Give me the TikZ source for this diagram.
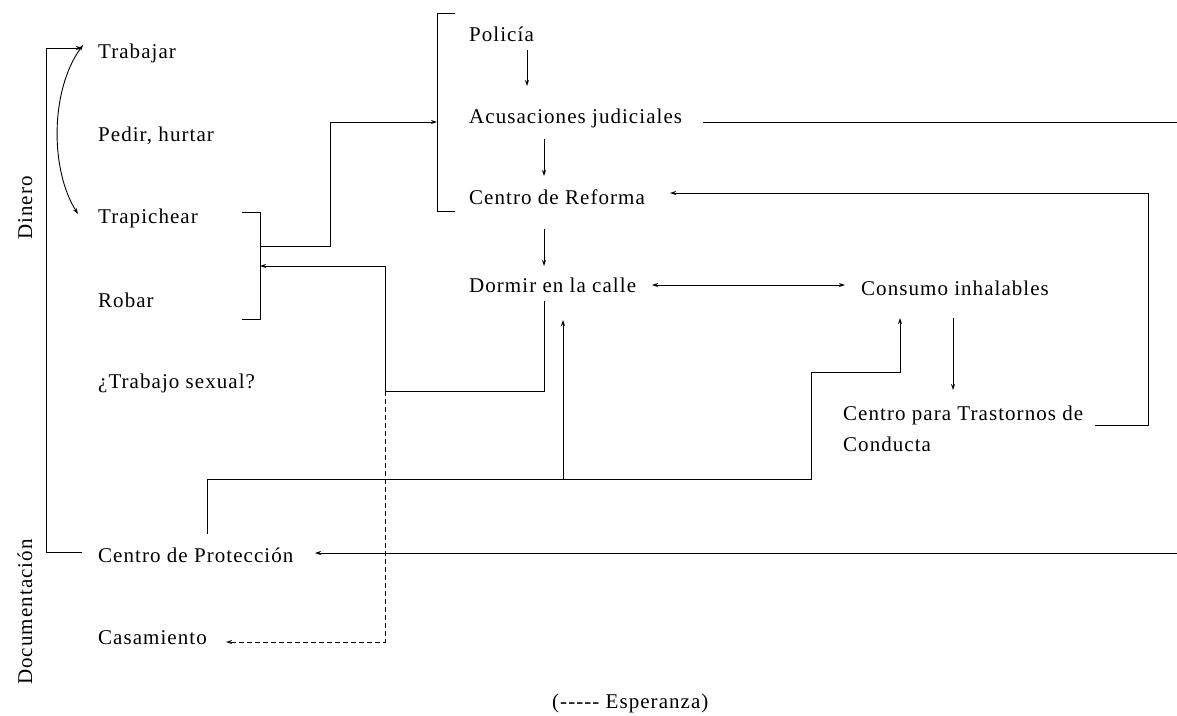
\documentclass[tikz,border=0pt]{standalone}
\usepackage{fontspec}
\setmainfont[LetterSpace=5]{Liberation Serif}
\usetikzlibrary{arrows.meta}
\begin{document}
\begin{tikzpicture}[x=1pt,y=-1pt,
 lbl/.style={anchor=base west,inner sep=0pt,font=\fontsize{21}{31}\selectfont},
 ln/.style={line width=0.9pt},
 arr/.style={ln,-{Stealth[length=6pt,width=4pt]}},
 darr/.style={ln,{Stealth[length=6pt,width=4pt]}-{Stealth[length=6pt,width=4pt]}},
 dash arr/.style={arr,dash pattern=on 5pt off 3pt}]
\useasboundingbox (0,0) rectangle (1177,715);
% left column
\node[lbl] (trab) at (98,58) {Trabajar};
\node[lbl] (pedir) at (98,141) {Pedir, hurtar};
\node[lbl] (trap) at (98,223) {Trapichear};
\node[lbl] (robar) at (98,307) {Robar};
\node[lbl] (sexual) at (98,388) {¿Trabajo sexual?};
\node[lbl] (prot) at (98,562) {Centro de Protección};
\node[lbl] (casa) at (98,644) {Casamiento};
\node[lbl,anchor=base,rotate=90] (dinero) at (32,208) {Dinero};
\node[lbl,anchor=base,rotate=90] (docu) at (32,612) {Documentación};
% middle column
\node[lbl] (poli) at (469,41) {Policía};
\node[lbl] (acus) at (469,123) {Acusaciones judiciales};
\node[lbl] (refo) at (469,204) {Centro de Reforma};
\node[lbl] (dorm) at (469,292) {Dormir en la calle};
% right
\node[lbl] (cons) at (861,295) {Consumo inhalables};
\node[lbl,align=left] (tras) at (843,451) {Centro para Trastornos de\\Conducta};
\node[lbl] (esp) at (552,708) {(-{}-{}-{}-{}- Esperanza)};
% coordinates
\coordinate (lbT) at (46,48);
\coordinate (lbB) at (46,552);
\coordinate (bT) at (242,212);
\coordinate (bB) at (242,319);
\coordinate (bM) at (260,246);
\coordinate (bIn) at (260,266);
\coordinate (pT) at (455,13);
\coordinate (pB) at (455,211);
\coordinate (pIn) at (437,122);
\coordinate (eR1) at (1177,122);
\coordinate (eR2) at (1177,553);
\coordinate (j1) at (385,391);
\coordinate (j2) at (563,479);
% left bracket Dinero / Documentación
\draw[arr] (82,552) -- (lbB) -- (lbT) -- (82,48);
\draw[darr] (83,45) .. controls (50,90) and (50,170) .. (78,214);
% bracket Trapichear / Robar
\draw[ln] (bT) -- (260,212) -- (260,319) -- (bB);
\draw[arr] (bM) -- (330,246) -- (330,122) -- (pIn);
% bracket Policia ... Centro de Reforma
\draw[ln] (pT) -- (437,13) -- (437,211) -- (pB);
\draw[arr] (527,50) -- (527,86);
\draw[arr] (544,139) -- (544,176);
\draw[arr] (544,229) -- (544,266);
% Dormir -> back to Trapichear/Robar
\draw[arr] (544,301) -- (544,391) -- (j1) -- (385,266) -- (bIn);
\draw[dash arr] (j1) -- (385,642) -- (226,642);
% Acusaciones line out and Centro de Proteccion in
\draw[ln] (703,122) -- (eR1);
\draw[arr] (eR2) -- (315,553);
% Centro Trastornos -> Centro de Reforma
\draw[arr] (1095,425) -- (1148,425) -- (1148,193) -- (670,193);
% Dormir <-> Consumo
\draw[darr] (652,285) -- (845,285);
\draw[arr] (953,318) -- (953,390);
% Centro de Proteccion up
\draw[arr] (207,534) -- (207,479) -- (811,479) -- (811,372) -- (900,372) -- (900,318);
\draw[arr] (j2) -- (563,320);
\end{tikzpicture}
\end{document}
